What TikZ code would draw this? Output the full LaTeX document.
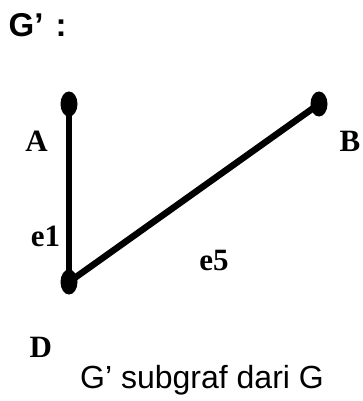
\documentclass[tikz,border=0pt]{standalone}
\usepackage{fontspec}
\usetikzlibrary{shapes.geometric}
\setmainfont{Liberation Serif}
\newfontfamily\arialfont{Liberation Sans}
\begin{document}
\begin{tikzpicture}[x=1pt,y=-1pt,
  vtx/.style={draw=none,fill=black,ellipse,minimum width=17pt,minimum height=25pt,inner sep=0pt},
  vlabel/.style={font=\fontsize{31}{36}\selectfont\bfseries,inner sep=0pt,anchor=base},
  edge/.style={line width=6.5pt}]
\useasboundingbox (0,0) rectangle (363,401);
\node[inner sep=0pt,anchor=base west,font=\arialfont\fontsize{33}{38}\selectfont\bfseries] (title) at (8.5,36.7) {G’\hspace{3pt} :};
\node[vtx] (A) at (69,104) {};
\node[vtx] (B) at (319,104) {};
\node[vtx] (D) at (69,282) {};
\draw[edge] (A.center) -- (D.center);
\draw[edge] (D.center) -- (B.center);
\node[vlabel] (lA) at (36.5,151) {A};
\node[vlabel] (lB) at (350,151) {B};
\node[vlabel] (le1) at (45.5,246.7) {e1};
\node[vlabel] (le5) at (214,270.5) {e5};
\node[vlabel] (lD) at (40.8,357.3) {D};
\node[inner sep=0pt,anchor=base west,font=\arialfont\fontsize{32}{36}\selectfont] (cap) at (80,388.3) {G’ subgraf dari G};
\end{tikzpicture}
\end{document}
